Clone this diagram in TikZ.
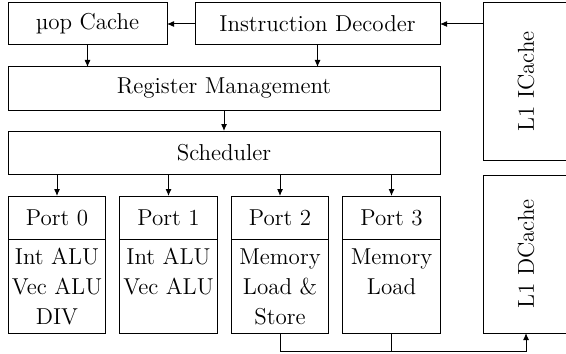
\documentclass[tikz,border=0pt]{standalone}
\usepackage{tikz}
\usetikzlibrary{arrows.meta,positioning}

\tikzset{
    unit/.style={
        draw,
        line width=0.5pt,
        rectangle,
        inner sep=0pt,
        outer sep=0pt,
        font=\fontsize{11.5}{15}\selectfont
    },
    cachebox/.style={
        unit,
        minimum width=43pt,
        minimum height=79pt
    },
    porthead/.style={
        unit,
        minimum width=48.75pt,
        minimum height=21.5pt
    },
    portbody/.style={
        unit,
        minimum width=48.75pt,
        minimum height=47pt
    },
    flow/.style={
        -{Latex[length=3.5pt,width=3pt]},
        line width=0.5pt
    }
}

\begin{document}
\begin{tikzpicture}[x=0.5pt,y=-0.5pt]
                \useasboundingbox (0,0) rectangle (566,353);

                % front end
                \node[
                    unit,
                    minimum width=79.5pt,
                    minimum height=21pt
                    ] (uop) at (87.5,24) {µop Cache};

                \node[
                    unit,
                    minimum width=122.5pt,
                    minimum height=21pt
                    ] (decoder) at (317.5,24) {Instruction Decoder};

                \node[
                    cachebox,
                    minimum height=78.5pt,
                    label={[rotate=90,font=\fontsize{11.5}{15}\selectfont]center:L1 ICache}
                    ] (icache) at (526,81.5) {};

                % rename and schedule
                \node[
                    unit,
                    minimum width=216pt,
                    minimum height=21.5pt
                    ] (regmgmt) at (224,88.5) {Register Management};

                \node[
                    unit,
                    minimum width=216pt,
                    minimum height=21.5pt
                    ] (sched) at (224,152.5) {Scheduler};

                % execution ports
                \node[porthead] (p0) at (57,217.5) {Port 0};
                \node[porthead] (p1) at (168.5,217.5) {Port 1};
                \node[porthead] (p2) at (280,217.5) {Port 2};
                \node[porthead] (p3) at (391.5,217.5) {Port 3};

                \node[portbody, anchor=north] (p0b) at (p0.south) {};
                \node[portbody, anchor=north] (p1b) at (p1.south) {};
                \node[portbody, anchor=north] (p2b) at (p2.south) {};
                \node[portbody, anchor=north] (p3b) at (p3.south) {};

                \foreach \port/\units in {p0b/{Int ALU\\Vec ALU\\DIV},
                                          p1b/{Int ALU\\Vec ALU},
                                          p2b/{Memory\\Load \&\\Store},
                                          p3b/{Memory\\Load}} {
                    \node[
                        anchor=north,
                        align=center,
                        inner sep=4.5pt,
                        font=\fontsize{11.5}{15}\selectfont
                        ] (\port txt) at (\port.north) {\units};
                }

                \node[
                    cachebox,
                    label={[rotate=90,font=\fontsize{11.5}{15}\selectfont]center:L1 DCache}
                    ] (dcache) at (526,254) {};

                % connections
                \draw[flow] (decoder.east -| icache.west) -- (decoder.east);
                \draw[flow] (decoder.west) -- (uop.east);
                \draw[flow] (uop.south) -- (uop.south |- regmgmt.north);
                \draw[flow] (decoder.south) -- (decoder.south |- regmgmt.north);
                \draw[flow] (regmgmt.south) -- (sched.north);

                \foreach \port in {p0,p1,p2,p3} {
                    \draw[flow] (sched.south -| \port.north) -- (\port.north);
                }

                \coordinate (bus) at (280,351);
                \draw[flow] (p2b.south) -- (bus) -- (bus -| dcache.south) -- (dcache.south);
                \draw[line width=0.5pt] (p3b.south) -- (p3b.south |- bus);
            \end{tikzpicture}
\end{document}
